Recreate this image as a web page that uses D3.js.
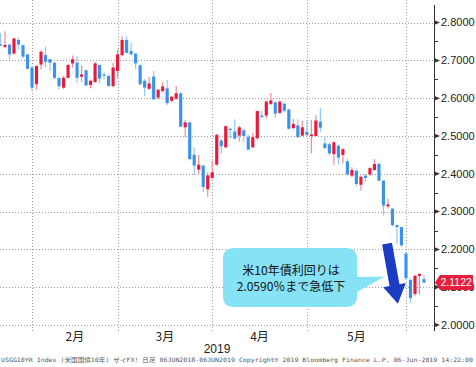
<!DOCTYPE html>
<html>
<head>
<meta charset="utf-8">
<script src="https://cdn.jsdelivr.net/npm/d3@7"></script>
<style>
  body { margin: 0; background: #fff; }
  svg { display: block; }
</style>
</head>
<body>
<svg id="chart" width="476" height="367"></svg>
<script>
// daily candles, 23 Jan 2019 .. 6 Jun 2019 (trading days only)
const opens = [2.742,2.736,2.742,2.718,2.754,2.740,2.716,2.681,2.637,2.689,2.714,2.703,2.694,2.654,2.628,2.654,2.692,2.694,2.657,2.674,
  2.635,2.643,2.688,2.663,2.659,2.632,2.672,2.714,2.754,2.725,2.718,2.687,2.646,2.625,2.657,2.602,2.619,2.626,2.593,2.599,
  2.613,2.523,2.536,2.450,2.411,2.422,2.359,2.389,2.424,2.488,2.470,2.519,2.512,2.501,2.515,2.497,2.470,2.494,2.554,2.554,
  2.585,2.589,2.561,2.585,2.570,2.521,2.528,2.501,2.511,2.500,2.500,2.538,2.480,2.478,2.452,2.474,2.450,2.433,2.395,2.408,
  2.371,2.395,2.398,2.410,2.426,2.382,2.314,2.308,2.264,2.259,2.189,2.119,2.082,2.130,2.121];
const highs = [2.773,2.777,2.742,2.760,2.760,2.742,2.716,2.685,2.687,2.727,2.736,2.704,2.694,2.654,2.659,2.689,2.713,2.711,2.687,2.674,
  2.650,2.696,2.688,2.668,2.663,2.694,2.729,2.764,2.764,2.746,2.718,2.689,2.650,2.657,2.672,2.625,2.643,2.648,2.606,2.632,
  2.615,2.543,2.538,2.470,2.450,2.422,2.404,2.435,2.506,2.493,2.528,2.521,2.544,2.528,2.519,2.503,2.508,2.567,2.567,2.594,
  2.614,2.591,2.594,2.589,2.572,2.545,2.544,2.540,2.540,2.542,2.555,2.574,2.500,2.483,2.487,2.478,2.469,2.439,2.417,2.413,
  2.395,2.399,2.417,2.439,2.430,2.382,2.334,2.308,2.266,2.259,2.194,2.124,2.133,2.137,2.133];
const lows = [2.739,2.733,2.703,2.716,2.729,2.705,2.676,2.619,2.622,2.676,2.681,2.672,2.650,2.624,2.624,2.653,2.681,2.641,2.643,2.632,
  2.626,2.641,2.639,2.650,2.631,2.628,2.654,2.710,2.718,2.713,2.678,2.634,2.606,2.622,2.596,2.597,2.615,2.582,2.589,2.596,
  2.523,2.496,2.435,2.396,2.400,2.352,2.339,2.387,2.422,2.453,2.468,2.493,2.491,2.485,2.484,2.462,2.468,2.491,2.548,2.547,
  2.582,2.547,2.559,2.563,2.517,2.517,2.494,2.500,2.498,2.454,2.500,2.511,2.465,2.450,2.424,2.424,2.427,2.395,2.391,2.366,
  2.356,2.378,2.395,2.408,2.380,2.290,2.308,2.261,2.214,2.207,2.119,2.059,2.076,2.080,2.111];
const closes = [2.740,2.741,2.716,2.758,2.742,2.710,2.678,2.628,2.685,2.723,2.696,2.694,2.654,2.632,2.654,2.688,2.703,2.654,2.663,2.634,
  2.646,2.692,2.652,2.661,2.632,2.681,2.716,2.754,2.720,2.716,2.692,2.637,2.628,2.639,2.597,2.622,2.631,2.587,2.604,2.613,
  2.525,2.536,2.439,2.422,2.424,2.365,2.396,2.404,2.503,2.473,2.526,2.516,2.493,2.523,2.500,2.464,2.497,2.566,2.550,2.591,
  2.594,2.559,2.591,2.567,2.519,2.532,2.497,2.523,2.503,2.504,2.541,2.522,2.468,2.454,2.483,2.443,2.465,2.399,2.410,2.373,
  2.392,2.389,2.415,2.426,2.382,2.316,2.319,2.264,2.259,2.211,2.124,2.071,2.130,2.135,2.1122];

const monthLabels = ["2月", "3月", "4月", "5月"];
const monthStarts = [7, 26, 47, 68, 90];   // candle index of first trading day
const yearLabel = "2019";
const yTicks = [2.0, 2.1, 2.2, 2.3, 2.4, 2.5, 2.6, 2.7, 2.8];
const lastPrice = 2.1122;
const calloutLines = ["米10年債利回りは", "2.0590％まで急低下"];
const footerText = "USGG10YR Index (米国国債10年) ザイFX!   日足 06JUN2018-06JUN2019  Copyright® 2019 Bloomberg Finance L.P.   06-Jun-2019 14:22:00";

const plotRight = 434, plotBottom = 325;

const svg = d3.select("#chart");

const x = d3.scalePoint()
  .domain(d3.range(opens.length))
  .range([0.46, 424]);
// fractional positions between candles (for annotations)
const xf = v => x(0) + v * x.step();

const y = d3.scaleLinear()
  .domain([2.0, 2.8])
  .range([plotBottom, plotBottom - 0.8 * 378]);

const UP = "#e8193c", DOWN = "#3a92ec";
const UP_WICK = "#f08a9c", DOWN_WICK = "#95c6f4";

svg.append("clipPath").attr("id", "plotclip")
  .append("rect").attr("x", 0).attr("y", 0).attr("width", plotRight).attr("height", plotBottom + 10);

// grid
const grid = svg.append("g").attr("stroke", "#9a9a9a").attr("stroke-dasharray", "1,2").attr("stroke-width", 1);
grid.selectAll("line.h")
  .data(yTicks)
  .enter().append("line")
  .attr("class", "h")
  .attr("x1", 0).attr("x2", plotRight)
  .attr("y1", d => Math.round(y(d)) + 0.5)
  .attr("y2", d => Math.round(y(d)) + 0.5);
grid.selectAll("line.v")
  .data(monthStarts)
  .enter().append("line")
  .attr("class", "v")
  .attr("x1", d => Math.round(x(d)) + 0.5)
  .attr("x2", d => Math.round(x(d)) + 0.5)
  .attr("y1", 0).attr("y2", plotBottom + 8);

// candles
const candles = d3.range(opens.length).map(i => ({
  i, o: opens[i], h: highs[i], l: lows[i], c: closes[i]
}));
const bw = x.step() * 0.7;
const cg = svg.append("g").attr("clip-path", "url(#plotclip)");
const candle = cg.selectAll("g.candle")
  .data(candles)
  .enter().append("g")
  .attr("class", "candle");

candle.append("line")
  .attr("x1", d => x(d.i)).attr("x2", d => x(d.i))
  .attr("y1", d => y(d.h)).attr("y2", d => y(d.l))
  .attr("stroke", d => d.c >= d.o ? UP_WICK : DOWN_WICK)
  .attr("stroke-width", 1.2);

candle.append("rect")
  .attr("x", d => x(d.i) - bw / 2)
  .attr("width", bw)
  .attr("y", d => y(Math.max(d.o, d.c)))
  .attr("height", d => Math.max(1.2, Math.abs(y(d.o) - y(d.c))))
  .attr("fill", d => d.c >= d.o ? UP : DOWN);

// right axis
const axisG = svg.append("g");
axisG.append("line")
  .attr("x1", plotRight + 0.5).attr("x2", plotRight + 0.5)
  .attr("y1", 5).attr("y2", plotBottom + 6)
  .attr("stroke", "#333").attr("stroke-width", 1);

const minor = d3.range(2.05, 2.8, 0.1);
axisG.selectAll("line.minor")
  .data(minor)
  .enter().append("line")
  .attr("x1", plotRight).attr("x2", plotRight + 4)
  .attr("y1", d => Math.round(y(d)) + 0.5).attr("y2", d => Math.round(y(d)) + 0.5)
  .attr("stroke", "#333");

axisG.selectAll("path.major")
  .data(yTicks)
  .enter().append("path")
  .attr("d", d => `M${plotRight},${y(d) - 2.5}L${plotRight + 6},${y(d)}L${plotRight},${y(d) + 2.5}Z`)
  .attr("fill", "#333");

axisG.selectAll("text.tick")
  .data(yTicks)
  .enter().append("text")
  .attr("x", plotRight + 7)
  .attr("y", d => y(d))
  .attr("dy", "0.35em")
  .attr("font-family", "'Liberation Sans', Arial, sans-serif")
  .attr("font-size", 11)
  .attr("fill", "#222")
  .text(d => d.toFixed(4));

// last price tag
const ly = y(lastPrice);
svg.append("path")
  .attr("d", `M${plotRight + 1},${ly}L${plotRight + 6},${ly - 7.5}L${plotRight + 39},${ly - 7.5}L${plotRight + 39},${ly + 7.5}L${plotRight + 6},${ly + 7.5}Z`)
  .attr("fill", "#e51e3d");
svg.append("text")
  .attr("x", plotRight + 6.5)
  .attr("y", ly)
  .attr("dy", "0.36em")
  .attr("font-family", "'Liberation Sans', Arial, sans-serif")
  .attr("font-size", 10.5)
  .attr("fill", "#fff")
  .text(lastPrice.toFixed(4));

// month labels and year
const monthMid = monthLabels.map((m, k) => ({ m, cx: (x(monthStarts[k]) + x(monthStarts[k + 1])) / 2 }));
svg.selectAll("text.month")
  .data(monthMid)
  .enter().append("text")
  .attr("x", d => d.cx)
  .attr("y", 341)
  .attr("text-anchor", "middle")
  .attr("font-family", "'Noto Sans CJK JP', sans-serif")
  .attr("font-size", 12)
  .attr("fill", "#222")
  .text(d => d.m);

svg.append("text")
  .attr("x", plotRight / 2)
  .attr("y", 353)
  .attr("text-anchor", "middle")
  .attr("font-family", "'Liberation Sans', Arial, sans-serif")
  .attr("font-size", 12)
  .attr("fill", "#222")
  .text(yearLabel);

// footer
svg.append("text")
  .attr("x", 1)
  .attr("y", 362)
  .attr("font-family", "'DejaVu Sans Mono', 'Noto Sans CJK JP', monospace")
  .attr("font-size", 6)
  .attr("fill", "#555")
  .attr("textLength", 472)
  .attr("lengthAdjust", "spacingAndGlyphs")
  .text(footerText);

// callout bubble
const bx0 = 223, bx1 = 357, by0 = 248, by1 = 307, r = 11;
const tip = [xf(85.3), y(2.128)];
svg.append("path")
  .attr("d", `M${bx0 + r},${by0}H${bx1 - r}Q${bx1},${by0} ${bx1},${by0 + r}` +
    `V${277}L${tip[0]},${tip[1]}L${bx1},${292}` +
    `V${by1 - r}Q${bx1},${by1} ${bx1 - r},${by1}H${bx0 + r}Q${bx0},${by1} ${bx0},${by1 - r}` +
    `V${by0 + r}Q${bx0},${by0} ${bx0 + r},${by0}Z`)
  .attr("fill", "#86e3f6");

svg.selectAll("text.call")
  .data(calloutLines)
  .enter().append("text")
  .attr("x", (bx0 + bx1) / 2 + 1)
  .attr("y", (d, k) => 271 + k * 16)
  .attr("dy", "0.35em")
  .attr("text-anchor", "middle")
  .attr("font-family", "'Noto Sans CJK JP', sans-serif")
  .attr("font-size", 12)
  .attr("fill", "#111")
  .text(d => d);

// big down arrow
const a0 = [xf(85.8), y(2.215)], a1 = [xf(88.2), y(2.056)];
const ddx = a1[0] - a0[0], ddy = a1[1] - a0[1], len = Math.hypot(ddx, ddy);
const ux = ddx / len, uy = ddy / len, nx = -uy, ny = ux;
const sw = 5, hw = 11.5, hl = 19;
const hb = [a1[0] - ux * hl, a1[1] - uy * hl];
const pts = [
  [a0[0] + nx * sw, a0[1] + ny * sw],
  [hb[0] + nx * sw, hb[1] + ny * sw],
  [hb[0] + nx * hw, hb[1] + ny * hw],
  a1,
  [hb[0] - nx * hw, hb[1] - ny * hw],
  [hb[0] - nx * sw, hb[1] - ny * sw],
  [a0[0] - nx * sw, a0[1] - ny * sw]
];
svg.append("path")
  .attr("d", "M" + pts.map(p => p.join(",")).join("L") + "Z")
  .attr("fill", "#1c3cc4");
</script>
</body>
</html>
